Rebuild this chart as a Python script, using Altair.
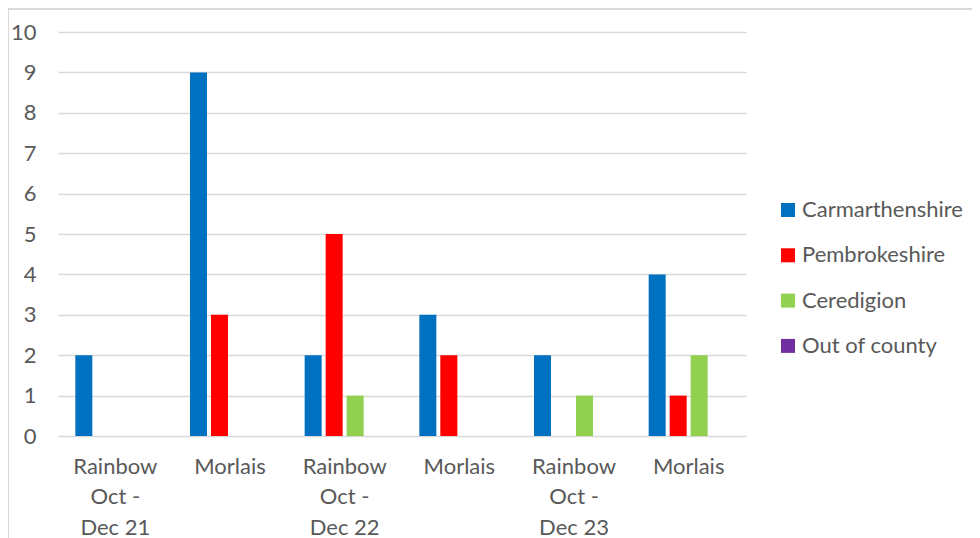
import altair as alt
import pandas as pd

cat_keys = ["c1", "c2", "c3", "c4", "c5", "c6"]
cat_labels = [
    ["Rainbow", "Oct -", "Dec 21"],
    ["Morlais"],
    ["Rainbow", "Oct -", "Dec 22"],
    ["Morlais"],
    ["Rainbow", "Oct -", "Dec 23"],
    ["Morlais"],
]
series = ["Carmarthenshire", "Pembrokeshire", "Ceredigion", "Out of county"]
colors = ["#0070C0", "#FF0000", "#92D050", "#7030A0"]
carmarthenshire = [2, 9, 2, 3, 2, 4]
pembrokeshire = [0, 3, 5, 2, 0, 1]
ceredigion = [0, 0, 1, 0, 1, 2]
out_of_county = [0, 0, 0, 0, 0, 0]

vals = [carmarthenshire, pembrokeshire, ceredigion, out_of_county]
rows = []
for s, v in zip(series, vals):
    for k, x in zip(cat_keys, v):
        rows.append({"cat": k, "series": s, "value": x})
df = pd.DataFrame(rows)

label_map = "{" + ",".join(
    "'%s':[%s]" % (k, ",".join("'%s'" % t for t in lab)) for k, lab in zip(cat_keys, cat_labels)
) + "}"

FONT = "Lato"
GREY = "#595959"

bars = alt.Chart(df).mark_bar().encode(
    x=alt.X("cat:N", sort=cat_keys, title=None,
            scale=alt.Scale(paddingInner=0.3023, paddingOuter=0.151),
            axis=alt.Axis(labelExpr=label_map + "[datum.value]", labelAngle=0,
                          labelFont=FONT, labelFontSize=22, labelColor=GREY,
                          labelLineHeight=30.5, labelPadding=20, ticks=False,
                          domain=False, grid=False)),
    xOffset=alt.XOffset("series:N", sort=series,
                        scale=alt.Scale(paddingInner=0.19, paddingOuter=0)),
    y=alt.Y("value:Q", title=None,
            scale=alt.Scale(domain=[0, 10], nice=False),
            axis=alt.Axis(values=list(range(0, 11)), labelFont=FONT, labelFontSize=22,
                          labelColor=GREY, labelPadding=22, ticks=False, tickSize=0,
                          domain=False, gridColor="#d9d9d9", gridWidth=1.5)),
    color=alt.Color("series:N", sort=series,
                    scale=alt.Scale(domain=series, range=colors),
                    legend=alt.Legend(title=None, orient="none", legendX=719, legendY=167,
                                      symbolType="square", symbolSize=196,
                                      symbolStrokeWidth=0, labelFont=FONT,
                                      labelFontSize=22, labelColor=GREY, labelLimit=400,
                                      labelOffset=3, rowPadding=23.3)),
)

border = alt.Chart(pd.DataFrame({"a": [0]})).mark_rect(
    filled=False, stroke="#d9d9d9", strokeWidth=2, clip=False
).encode(
    x=alt.value(-50), x2=alt.value(1000), y=alt.value(-23), y2=alt.value(1000)
)

chart = alt.layer(border, bars).properties(
    width=688, height=404,
    autosize=alt.AutoSizeParams(type="none"),
    padding={"left": 50, "top": 24, "right": 226, "bottom": 110},
).configure_view(stroke=None)

chart.save("out.html", embed_options={"renderer": "svg", "actions": False})
